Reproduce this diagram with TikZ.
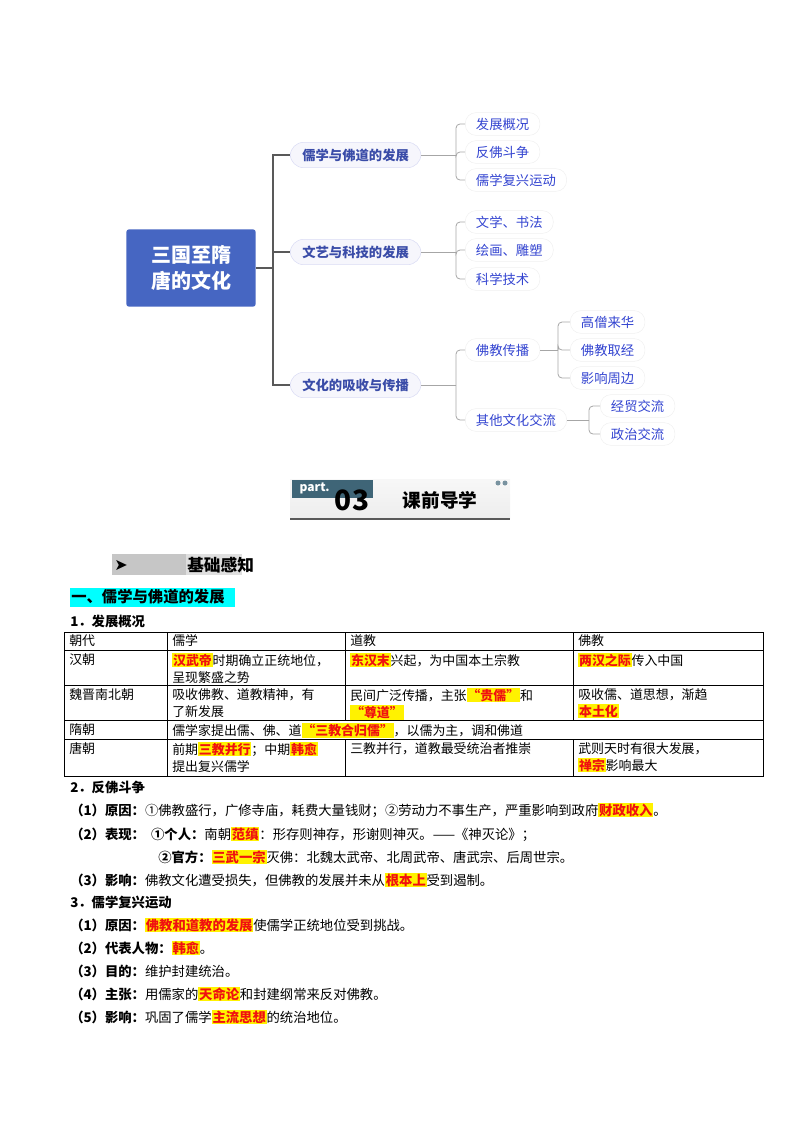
\documentclass[tikz,border=0pt]{standalone}
\usepackage{fontspec}
\setmainfont{Noto Sans CJK SC}
\newfontfamily\symfont{DejaVu Sans}
\usetikzlibrary{positioning, calc}
\XeTeXlinebreaklocale "zh"
\XeTeXlinebreakskip=0pt plus 1pt
\definecolor{rootblue}{HTML}{4666C2}
\definecolor{lvblue}{HTML}{3A4CA8}
\definecolor{leafblue}{HTML}{3344D0}
\definecolor{pillline}{HTML}{DADCF4}
\definecolor{hlyellow}{HTML}{FFF200}
\definecolor{hlred}{HTML}{F01010}
\definecolor{partslate}{HTML}{3F6577}
\definecolor{headcyan}{HTML}{00FFFF}
\newcommand\hlt[1]{{\setlength\fboxsep{0.6pt}\colorbox{hlyellow}{\textcolor{hlred}{\bfseries #1}}}}
\tikzset{
  root/.style={fill=rootblue, rounded corners=2pt, text=white, font=\bfseries\fontsize{15}{19}\selectfont,
    minimum width=97pt, minimum height=58pt, align=center},
  lvone/.style={draw=pillline, fill=pillline!25, rounded corners=10pt, text=lvblue, font=\bfseries\fontsize{10}{12}\selectfont,
    minimum height=19pt, inner xsep=9pt, anchor=west},
  lvtwo/.style={draw=gray!12, rounded corners=8pt, text=leafblue, font=\fontsize{10}{12}\selectfont,
    minimum height=17pt, inner xsep=8pt, anchor=west},
  conn/.style={draw=gray!70!black, line width=0.9pt},
  twig/.style={draw=gray!70, line width=0.6pt, rounded corners=3pt},
  cell/.style={anchor=north west, inner sep=0pt, align=left, font=\fontsize{9.7}{12.8}\selectfont},
  line/.style={anchor=west, inner sep=0pt, font=\fontsize{10}{12}\selectfont},
}
\begin{document}
\begin{tikzpicture}[x=0.75pt, y=-0.75pt]
  \useasboundingbox (0,0) rectangle (800,1132);
  % mind map
  \node[root] (root) at (191,268) {三国至隋\\唐的文化};
  \node[lvone] (dev) at (290,155) {儒学与佛道的发展};
  \node[lvone] (art) at (290,252) {文艺与科技的发展};
  \node[lvone] (swap) at (290,385) {文化的吸收与传播};
  \coordinate (trunk) at (273,268);
  \draw[conn] (root.east) -- (trunk);
  \foreach \n in {dev, art, swap}
    \draw[conn] (trunk) |- (\n.west);

  \node[lvtwo] (gk) at (465,124) {发展概况};
  \node[lvtwo] (ff) at (465,152) {反佛斗争};
  \node[lvtwo] (fx) at (465,180) {儒学复兴运动};
  \node[lvtwo] (wx) at (465,222) {文学、书法};
  \node[lvtwo] (hh) at (465,250) {绘画、雕塑};
  \node[lvtwo] (kj) at (465,279) {科学技术};
  \node[lvtwo] (fj) at (465,350) {佛教传播};
  \node[lvtwo] (qt) at (465,420) {其他文化交流};
  \node[lvtwo] (gs) at (570,322) {高僧来华};
  \node[lvtwo] (qj) at (570,350) {佛教取经};
  \node[lvtwo] (yx) at (570,378) {影响周边};
  \node[lvtwo] (jm) at (600,406) {经贸交流};
  \node[lvtwo] (zz) at (600,434) {政治交流};

  \coordinate (kA) at (456,155);
  \coordinate (kB) at (456,252);
  \coordinate (kC) at (456,385);
  \coordinate (kD) at (558,350);
  \coordinate (kE) at (589,420);
  \draw[twig] (dev.east) -- (kA);
  \draw[twig] (art.east) -- (kB);
  \draw[twig] (swap.east) -- (kC);
  \draw[twig] (fj.east) -- (kD);
  \draw[twig] (qt.east) -- (kE);
  \foreach \k/\n in {kA/gk, kA/ff, kA/fx, kB/wx, kB/hh, kB/kj, kC/fj, kC/qt, kD/gs, kD/qj, kD/yx, kE/jm, kE/zz}
    \draw[twig] (\k) |- (\n.west);

  % part 03 banner
  \shade[top color=gray!6, bottom color=gray!14] (290,479) rectangle (510,518);
  \fill[partslate] (292,480) rectangle (373,498);
  \node[anchor=west, text=white, font=\bfseries\fontsize{9}{10}\selectfont] (part) at (295,488) {part.};
  \node[font=\bfseries\fontsize{21}{22}\selectfont] (num) at (352,500) {03};
  \node[font=\bfseries\fontsize{14}{16}\selectfont] (title) at (440,500) {课前导学};
  \fill[partslate!70] (498,483) circle (2.5) (505,483) circle (2.5);
  \draw[gray!70!black, line width=1.6pt] (290,519) -- (510,519);

  % section heads
  \fill[gray!45] (112,554) rectangle (186,575);
  \fill[gray!25] (186,554) rectangle (242,575);
  \node[anchor=west, inner sep=0pt, font=\symfont\fontsize{12}{14}\selectfont] (tip) at (114,565) {➤};
  \node[anchor=west, inner sep=0pt, font=\bfseries\fontsize{12.5}{14}\selectfont] (jc) at (187,565) {基础感知};
  \fill[headcyan] (70,588) rectangle (235,607);
  \node[line, font=\bfseries\fontsize{11.5}{13}\selectfont] (s1) at (71,597) {一、儒学与佛道的发展};
  \node[line, font=\bfseries\fontsize{10}{12}\selectfont] (h1) at (70,621) {1．发展概况};

  % table
  \draw[line width=0.7pt] (64,632) rectangle (763,776);
  \foreach \y in {650.6,685.5,720.8,739.8}
    \draw[line width=0.7pt] (64,\y) -- (763,\y);
  \draw[line width=0.7pt] (167,632) -- (167,776);
  \draw[line width=0.7pt] (345,632) -- (345,720.8) (345,739.8) -- (345,776);
  \draw[line width=0.7pt] (573,632) -- (573,720.8) (573,739.8) -- (573,776);

  \node[cell] (c11) at (69,634) {朝代};
  \node[cell] (c12) at (172,634) {儒学};
  \node[cell] (c13) at (350,634) {道教};
  \node[cell] (c14) at (578,634) {佛教};
  \node[cell] (c21) at (69,653) {汉朝};
  \node[cell] (c22) at (172,653) {\hlt{汉武帝}时期确立正统地位，\\呈现繁盛之势};
  \node[cell] (c23) at (350,653) {\hlt{东汉末}兴起，为中国本土宗教};
  \node[cell] (c24) at (578,653) {\hlt{两汉之际}传入中国};
  \node[cell] (c31) at (69,688) {魏晋南北朝};
  \node[cell] (c32) at (172,688) {吸收佛教、道教精神，有\\了新发展};
  \node[cell] (c33) at (350,688) {民间广泛传播，主张\hlt{“贵儒”}和\\\hlt{“尊道”}};
  \node[cell] (c34) at (578,688) {吸收儒、道思想，渐趋\\\hlt{本土化}};
  \node[cell] (c41) at (69,723) {隋朝};
  \node[cell] (c42) at (172,723) {儒学家提出儒、佛、道\hlt{“三教合归儒”}，以儒为主，调和佛道};
  \node[cell] (c51) at (69,742) {唐朝};
  \node[cell] (c52) at (172,742) {前期\hlt{三教并行}；中期\hlt{韩愈}\\提出复兴儒学};
  \node[cell] (c53) at (350,742) {三教并行，道教最受统治者推崇};
  \node[cell] (c54) at (578,742) {武则天时有很大发展，\\\hlt{禅宗}影响最大};

  % text lines
  \node[line, font=\bfseries\fontsize{10}{12}\selectfont] (h2) at (70,787) {2．反佛斗争};
  \node[line] (a1) at (70,810) {\textbf{（1）原因：}①佛教盛行，广修寺庙，耗费大量钱财；②劳动力不事生产，严重影响到政府\hlt{财政收入}。};
  \node[line] (a2) at (70,834) {\textbf{（2）表现：\ \ ①个人：}南朝\hlt{范缜}：形存则神存，形谢则神灭。——《神灭论》；};
  \node[line] (a3) at (158,857) {\textbf{②官方：}\hlt{三武一宗}灭佛：北魏太武帝、北周武帝、唐武宗、后周世宗。};
  \node[line] (a4) at (70,880) {\textbf{（3）影响：}佛教文化遭受损失，但佛教的发展并未从\hlt{根本上}受到遏制。};
  \node[line, font=\bfseries\fontsize{10}{12}\selectfont] (h3) at (70,902) {3．儒学复兴运动};
  \node[line] (b1) at (70,925) {\textbf{（1）原因：}\hlt{佛教和道教的发展}使儒学正统地位受到挑战。};
  \node[line] (b2) at (70,948) {\textbf{（2）代表人物：}\hlt{韩愈}。};
  \node[line] (b3) at (70,971) {\textbf{（3）目的：}维护封建统治。};
  \node[line] (b4) at (70,994) {\textbf{（4）主张：}用儒家的\hlt{天命论}和封建纲常来反对佛教。};
  \node[line] (b5) at (70,1017) {\textbf{（5）影响：}巩固了儒学\hlt{主流思想}的统治地位。};
\end{tikzpicture}
\end{document}
